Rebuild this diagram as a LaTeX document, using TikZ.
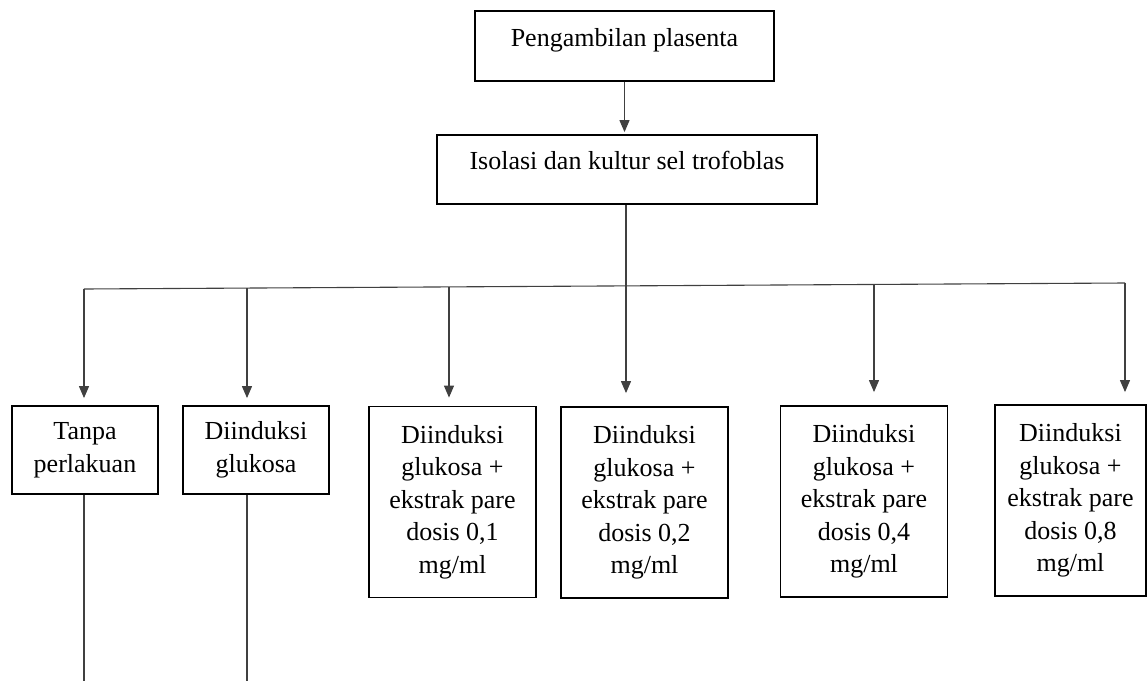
\documentclass[tikz,border=0pt]{standalone}
\usepackage{fontspec}
\setmainfont{Liberation Serif}
\usetikzlibrary{arrows.meta}

\begin{document}
\begin{tikzpicture}[x=0.5pt,y=-0.5pt,
  every node/.style={draw,line width=0.9pt,align=center,inner sep=2pt,font=\fontsize{13}{16.25}\selectfont},
  headbox/.style={text height=9pt,text depth=9pt},
  smallbox/.style={minimum width=73pt,minimum height=44pt},
  dosebox/.style={minimum width=83.5pt,minimum height=95.5pt},
  conn/.style={line width=0.55pt,black!75},
  arr/.style={conn,-{Triangle[width=5pt,length=6pt]}}]
\useasboundingbox (0,0) rectangle (1148,681);
\node[headbox,minimum width=149.5pt,minimum height=35pt] (p1) at (624.5,46) {Pengambilan plasenta};
\node[headbox,minimum width=190pt,minimum height=34.5pt] (p2) at (627,169.5) {Isolasi dan kultur sel trofoblas};
%-------------
\node[smallbox] (k1) at (85,450) {Tanpa\\perlakuan};
\node[smallbox] (k2) at (256,450) {Diinduksi\\glukosa};
\node[dosebox] (k3) at (452.5,502) {Diinduksi\\glukosa +\\ekstrak pare\\dosis 0,1\\mg/ml};
\node[dosebox] (k4) at (644.5,502.5) {Diinduksi\\glukosa +\\ekstrak pare\\dosis 0,2\\mg/ml};
\node[dosebox] (k5) at (864,501.5) {Diinduksi\\glukosa +\\ekstrak pare\\dosis 0,4\\mg/ml};
\node[dosebox,minimum width=75.5pt] (k6) at (1070.5,500.5) {Diinduksi\\glukosa +\\ekstrak pare\\dosis 0,8\\mg/ml};
%------------
\coordinate (b1) at (84,289);
\coordinate (b2) at (247,288);
\coordinate (b3) at (449,287);
\coordinate (b4) at (626,286);
\coordinate (b5) at (874,284.5);
\coordinate (b6) at (1125,283);
\coordinate (e1) at (84,681);
\coordinate (e2) at (247,681);
\draw[arr,shorten >=1pt] (p1.south) -- (p1.south |- p2.north);
\draw[conn] (p2.south -| b4) -- (b4);
\draw[conn] (b1) -- (b6);
\foreach \b/\k/\g in {b1/k1/3.5pt,b2/k2/3.5pt,b3/k3/4pt,b4/k4/6.5pt,b5/k5/6.5pt,b6/k6/6pt}
\draw[arr,shorten >=\g] (\b) -- (\b |- \k.north);
\foreach \b/\k/\e in {b1/k1/e1,b2/k2/e2}
\draw[conn] (\b |- \k.south) -- (\e);
\end{tikzpicture}
\end{document}
